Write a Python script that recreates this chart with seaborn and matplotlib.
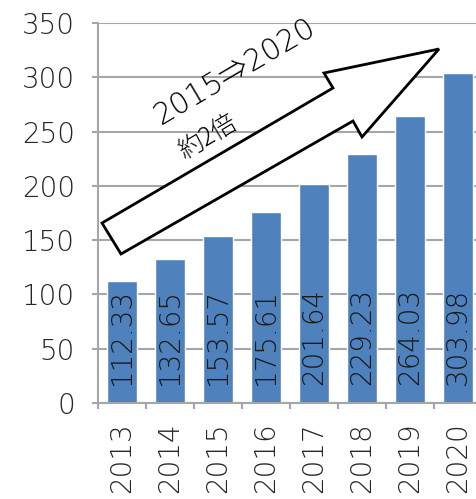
import matplotlib
matplotlib.use('Agg')
import matplotlib.pyplot as plt
import seaborn as sns
import pandas as pd
from matplotlib.patches import Polygon

# ---- data ----
years = ['2013', '2014', '2015', '2016', '2017', '2018', '2019', '2020']
values = [112.33, 132.65, 153.57, 175.61, 201.64, 229.23, 264.03, 303.98]
y_ticks = [0, 50, 100, 150, 200, 250, 300, 350]
annot_main = '2015⇒2020'
annot_sub = '約2倍'

sns.set_theme(style='white')
plt.rcParams['font.family'] = ['DejaVu Sans', 'Noto Sans CJK JP']
plt.rcParams['font.weight'] = 'light'

W, H = 476, 499
fig = plt.figure(figsize=(W / 100, H / 100), dpi=100)
ax = fig.add_axes([98 / W, 96 / H, 384 / W, 380 / H])

df = pd.DataFrame({'year': years, 'value': values})
sns.barplot(data=df, x='year', y='value', color='#4F81BD', saturation=1,
            width=0.63, ax=ax, zorder=2)

grid_c = '#A6A6A6'
text_c = '#262626'
ax.set_xlim(-0.5, len(years) - 0.5)
ax.set_ylim(y_ticks[0], y_ticks[-1])
ax.set_yticks(y_ticks)
ax.yaxis.grid(True, color=grid_c, linewidth=1.5)
ax.xaxis.grid(False)
ax.set_axisbelow(True)
for s in ['top', 'right']:
    ax.spines[s].set_visible(False)
for s in ['left', 'bottom']:
    ax.spines[s].set_color(grid_c)
    ax.spines[s].set_linewidth(1.5)
ax.set_xlabel('')
ax.set_ylabel('')

ax.tick_params(axis='y', left=True, length=4.5, width=1.5, color=grid_c,
               pad=12, labelsize=20, labelcolor=text_c)
ax.set_xticks([i - 0.5 for i in range(len(years) + 1)], minor=True)
ax.tick_params(axis='x', which='major', bottom=True, length=0, pad=14,
               labelsize=20, labelcolor=text_c, labelrotation=90)
ax.tick_params(axis='x', which='minor', bottom=True, length=4.5, width=1.5,
               color=grid_c)

# value labels inside the bars, at the base
for patch, v in zip(ax.containers[0], values):
    ax.annotate(f'{v:.2f}', xy=(patch.get_x() + patch.get_width() / 2, 0),
                xytext=(0, 13), textcoords='offset points', rotation=90,
                ha='center', va='bottom', fontsize=20, color='#1a1a1a',
                zorder=3)

# decorative block arrow (figure pixel coordinates)
pts = [(102, 223), (333, 88), (324, 73), (439, 49), (362, 137), (353, 121),
       (121, 254)]
poly = Polygon([(x / W, 1 - y / H) for x, y in pts], closed=True,
               transform=fig.transFigure, facecolor='white',
               edgecolor='black', linewidth=2, joinstyle='miter', zorder=5)
fig.add_artist(poly)

fig.text(235 / W, 1 - 71 / H, annot_main, rotation=30.5, rotation_mode='anchor',
         ha='center', va='center', fontsize=21.5, color='black',
         family=['DejaVu Sans', 'Noto Sans CJK JP'], zorder=6)
fig.text(208 / W, 1 - 137 / H, annot_sub, rotation=30.5, rotation_mode='anchor',
         ha='center', va='center', fontsize=18, color='black',
         family=['Noto Sans CJK JP', 'DejaVu Sans'], zorder=6)

fig.savefig('out.png', dpi=100)
